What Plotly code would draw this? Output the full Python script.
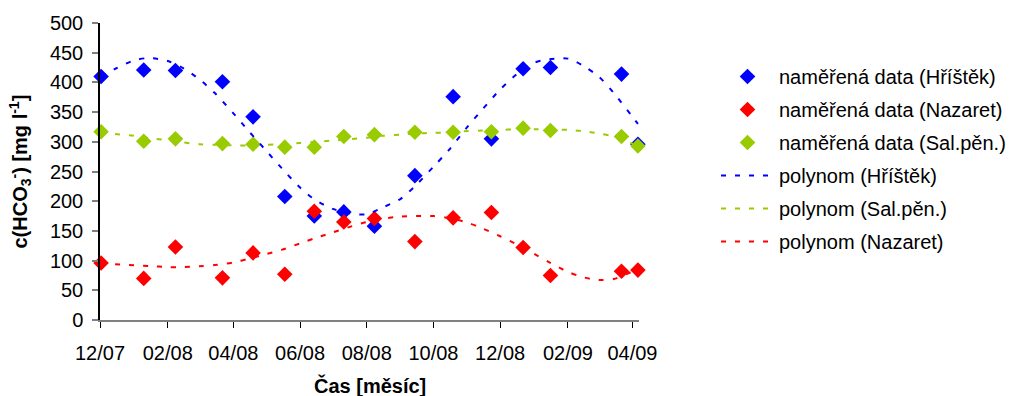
import plotly.graph_objects as go

# ---- data ----
dates = ["2007-12-02", "2008-01-10", "2008-02-08", "2008-03-22", "2008-04-19", "2008-05-18",
         "2008-06-14", "2008-07-11", "2008-08-08", "2008-09-14", "2008-10-19", "2008-11-23",
         "2008-12-22", "2009-01-16", "2009-03-22", "2009-04-06"]
hristek = [410, 421, 420, 401, 342, 208, 175, 182, 158, 243, 376, 305, 423, 425, 414, 296]
nazaret = [96, 70, 123, 71, 113, 77, 183, 165, 171, 132, 172, 181, 122, 75, 82, 84]
salpen = [317, 301, 305, 297, 296, 291, 291, 309, 312, 316, 316, 317, 323, 319, 309, 293]

trend_dates = ["2007-12-02", "2007-12-15", "2008-01-01", "2008-01-15", "2008-02-01", "2008-02-15",
               "2008-03-01", "2008-03-15", "2008-04-01", "2008-04-15", "2008-05-01", "2008-05-15",
               "2008-06-01", "2008-06-15", "2008-07-01", "2008-07-15", "2008-08-01", "2008-08-15",
               "2008-09-01", "2008-09-15", "2008-10-01", "2008-10-15", "2008-11-01", "2008-11-15",
               "2008-12-01", "2008-12-15", "2009-01-01", "2009-01-15", "2009-02-01", "2009-02-15",
               "2009-03-01", "2009-03-15", "2009-04-01", "2009-04-06"]
trend_hristek = [410, 423, 437, 441, 436, 424, 405, 382, 348, 318, 285, 256, 223, 202, 187, 180,
                 178, 189, 204, 227, 258, 286, 325, 355, 388, 412, 433, 439, 440, 428, 410, 382,
                 342, 330]
trend_salpen = [316, 313, 310, 306, 303, 299, 296, 295, 294, 294, 295, 296, 298, 300, 302, 304,
                307, 310, 312, 314, 315, 316, 318, 319, 320, 321, 321, 321, 320, 318, 314, 309,
                297, 292]
trend_nazaret = [96, 94, 92, 91, 89, 89, 90.5, 92.5, 97, 103, 111, 118, 129, 138, 147.5, 156,
                 165, 170.5, 174, 175, 175, 171.5, 164, 154, 141, 128.5, 111.5, 97, 81, 72, 67.5,
                 69, 82, 88]

tick_dates = ["2007-12-01", "2008-02-01", "2008-04-01", "2008-06-01", "2008-08-01",
              "2008-10-01", "2008-12-01", "2009-02-01", "2009-04-01"]
tick_labels = ["12/07", "02/08", "04/08", "06/08", "08/08", "10/08", "12/08", "02/09", "04/09"]

BLUE = "#0000FF"
RED = "#FF0000"
GREEN = "#99CC00"
FONT = "Arial, 'Liberation Sans', sans-serif"

fig = go.Figure()

def markers(y, name, color, grp):
    fig.add_trace(go.Scatter(x=dates, y=y, mode="markers", name=name, cliponaxis=False,
                             legendgroup=grp,
                             marker=dict(symbol="diamond", size=12, color=color,
                                         line=dict(width=0))))

def trend(y, name, color, grp):
    fig.add_trace(go.Scatter(x=trend_dates, y=y, mode="lines", name=name, cliponaxis=False,
                             legendgroup=grp,
                             line=dict(color=color, width=2, dash="5px,9px", shape="spline",
                                       smoothing=0.8)))

markers(hristek, "naměřená data (Hříštěk)", BLUE, "g1")
markers(nazaret, "naměřená data (Nazaret)", RED, "g2")
markers(salpen, "naměřená data (Sal.pěn.)", GREEN, "g3")
trend(trend_hristek, "polynom (Hříštěk)", BLUE, "g4")
trend(trend_salpen, "polynom (Sal.pěn.)", GREEN, "g5")
trend(trend_nazaret, "polynom (Nazaret)", RED, "g6")

fig.update_layout(
    width=1023, height=396,
    margin=dict(l=100, r=384, t=23, b=76),
    paper_bgcolor="white", plot_bgcolor="white",
    font=dict(family=FONT, size=20, color="black"),
    showlegend=True,
    legend=dict(xref="container", yref="container", x=716 / 1023, y=1 - 57 / 396,
                xanchor="left", yanchor="top", font=dict(size=20), tracegroupgap=4,
                bgcolor="rgba(0,0,0,0)", itemwidth=53, maxheight=330),
    xaxis=dict(type="date", range=["2007-12-01", "2009-04-07"], tickmode="array",
               tickvals=tick_dates, ticktext=tick_labels, showgrid=False, zeroline=False,
               showline=True, linecolor="#808080", linewidth=2, ticks="outside", ticklen=6,
               tickcolor="black", tickwidth=1, ticklabelstandoff=8,
               tickfont=dict(size=20)),
    yaxis=dict(range=[0, 500], tickmode="array", tickvals=list(range(0, 501, 50)),
               showgrid=False, zeroline=False, showline=True, linecolor="black", linewidth=1.5,
               ticks="outside", ticklen=6, tickcolor="#808080", tickwidth=1.5,
               ticklabelstandoff=5, tickfont=dict(size=20)),
    annotations=[
        dict(text="<b>Čas [měsíc]</b>", xref="paper", yref="paper", x=0.5, y=(320 - 385) / 297,
             xanchor="center", yanchor="middle", showarrow=False, font=dict(size=20)),
        dict(text="<b>c(HCO<sub>3</sub><sup>-</sup>) [mg l<sup>-1</sup>]</b>", xref="paper",
             yref="paper", x=(20 - 100) / 539, y=0.5, xanchor="center", yanchor="middle",
             textangle=-90, showarrow=False, font=dict(size=20)),
    ],
)

fig.write_html("out.html", config={"displayModeBar": False},
               post_script="document.body.style.margin='0';")
